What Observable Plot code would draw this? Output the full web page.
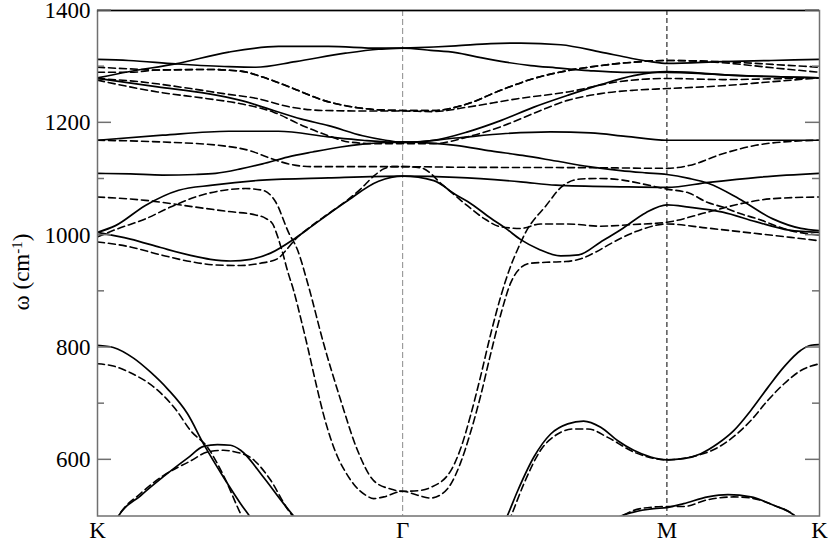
<!DOCTYPE html>
<html><head><meta charset="utf-8">
<script src="https://cdn.jsdelivr.net/npm/d3@7"></script>
<script src="https://cdn.jsdelivr.net/npm/@observablehq/plot@0.6"></script>
<style>
body{margin:0;background:#fff;}
#chart{width:830px;height:542px;}
</style></head><body><div id="chart"></div>
<script>
// k-path coordinate: K=0, Γ=1, M=1.866, K=2.366 ; values ω in cm^-1
const kTicks = [0, 1, 1.866, 2.366];
const kLabels = ["K", "Γ", "M", "K"];
const yMajor = [600, 800, 1000, 1200, 1400];
const yMinor = [700, 900, 1100, 1300];

// ---- solid bands ----
const S1 = [[0,1313],[0.102,1311],[0.256,1305],[0.430,1300],[0.518,1299],[0.649,1309],[0.813,1324],[0.921,1331],[1,1333],[1.102,1335],[1.174,1337],[1.289,1341],[1.387,1342],[1.518,1339],[1.649,1326],[1.748,1315],[1.813,1309],[1.866,1306],[2.049,1309],[2.207,1311],[2.366,1313]];
const S2 = [[0,1280],[0.102,1291],[0.256,1305],[0.430,1326],[0.593,1336],[0.757,1336],[0.921,1333],[1,1333],[1.092,1329],[1.174,1325],[1.256,1316],[1.338,1308],[1.420,1302],[1.502,1298],[1.610,1293],[1.721,1290],[1.866,1290],[2.108,1284],[2.366,1280]];
const S3 = [[0,1279],[0.197,1264],[0.361,1252],[0.469,1240],[0.577,1222],[0.666,1207],[0.757,1195],[0.869,1177],[0.944,1169],[1,1165],[1.102,1169],[1.213,1184],[1.321,1204],[1.430,1228],[1.541,1249],[1.649,1268],[1.757,1284],[1.866,1291],[2.108,1284],[2.366,1280]];
const S4 = [[0,1169],[0.213,1178],[0.430,1185],[0.593,1185],[0.757,1175],[0.869,1169],[1,1165],[1.174,1173],[1.338,1181],[1.485,1184],[1.616,1182],[1.731,1176],[1.866,1169],[2.049,1169],[2.366,1169]];
const S5 = [[0,1110],[0.108,1109],[0.213,1107],[0.321,1108],[0.387,1110],[0.469,1118],[0.541,1127],[0.623,1139],[0.705,1148],[0.797,1157],[0.869,1162],[0.944,1165],[1,1166],[1.092,1164],[1.174,1160],[1.289,1150],[1.393,1142],[1.502,1132],[1.610,1122],[1.715,1115],[1.797,1111],[1.866,1108],[1.938,1101],[2.003,1092],[2.102,1065],[2.213,1029],[2.305,1012],[2.366,1008]];
const S6 = [[0,1005],[0.059,1017],[0.157,1053],[0.266,1080],[0.377,1089],[0.541,1098],[0.757,1102],[1,1105],[1.174,1103],[1.387,1095],[1.502,1089],[1.721,1086],[1.866,1085],[2.003,1094],[2.164,1103],[2.366,1110]];
const S7 = [[0,1005],[0.108,993],[0.207,978],[0.305,964],[0.370,957],[0.436,954],[0.502,957],[0.567,968],[0.649,995],[0.705,1017],[0.813,1059],[0.921,1096],[1,1105],[1.102,1097],[1.174,1072],[1.213,1060],[1.289,1030],[1.338,1012],[1.387,992],[1.446,975],[1.518,963],[1.577,965],[1.649,988],[1.721,1012],[1.797,1040],[1.866,1054],[1.938,1050],[2.049,1041],[2.157,1024],[2.266,1009],[2.366,1005]];
const S8 = [[0,804],[0.052,800],[0.118,781],[0.174,756],[0.230,726],[0.295,682],[0.348,628],[0.413,569],[0.469,522],[0.498,500],[0.511,490]];
const S9 = [[0.059,490],[0.069,500],[0.141,536],[0.216,570],[0.295,603],[0.348,624],[0.393,627],[0.436,626],[0.469,617],[0.544,569],[0.610,522],[0.643,500],[0.660,490]];
const S10 = [[1.334,490],[1.341,498],[1.377,545],[1.430,605],[1.485,646],[1.541,664],[1.593,669],[1.649,658],[1.705,634],[1.757,617],[1.813,605],[1.866,600],[1.921,602],[1.977,611],[2.033,629],[2.085,652],[2.141,688],[2.197,729],[2.249,765],[2.305,795],[2.338,804],[2.366,805]];
const S11 = [[1.685,490],[1.708,498],[1.757,507],[1.823,513],[1.866,515],[1.921,522],[2.000,534],[2.066,538],[2.141,534],[2.216,519],[2.289,498],[2.298,490]];

// ---- dashed bands ----
const Da0 = [[0,1299],[0.108,1296],[0.197,1294],[0.361,1295],[0.469,1292],[0.544,1281],[0.633,1263],[0.741,1240],[0.852,1227],[0.928,1223],[1,1222],[1.102,1222],[1.213,1234],[1.321,1258],[1.430,1279],[1.541,1293],[1.649,1302],[1.757,1308],[1.866,1311],[2.049,1309],[2.213,1304],[2.366,1299]];
const Da = [[0,1290],[0.108,1290],[0.197,1294],[0.361,1295],[0.469,1292],[0.544,1281],[0.633,1263],[0.741,1240],[0.852,1227],[0.928,1223],[1,1222],[1.102,1222],[1.213,1234],[1.321,1258],[1.430,1279],[1.541,1293],[1.649,1302],[1.757,1308],[1.866,1311],[2.049,1307],[2.213,1298],[2.366,1290]];
const Db = [[0,1279],[0.141,1273],[0.305,1261],[0.413,1252],[0.525,1243],[0.633,1228],[0.741,1222],[0.905,1221],[1,1221],[1.102,1220],[1.213,1228],[1.377,1243],[1.541,1255],[1.705,1273],[1.866,1279],[2.049,1277],[2.266,1279],[2.366,1280]];
const Dc = [[0,1276],[0.197,1255],[0.361,1243],[0.469,1234],[0.577,1219],[0.672,1195],[0.757,1177],[0.823,1166],[0.905,1163],[1,1163],[1.102,1163],[1.213,1175],[1.321,1193],[1.452,1222],[1.541,1240],[1.649,1252],[1.757,1258],[1.866,1261],[2.049,1266],[2.207,1273],[2.366,1280]];
const Dd = [[0,1169],[0.207,1166],[0.413,1159],[0.502,1150],[0.561,1138],[0.633,1126],[0.698,1122],[1,1122],[1.174,1121],[1.649,1120],[1.866,1119],[1.938,1124],[2.049,1145],[2.157,1160],[2.272,1167],[2.366,1169]];
const De = [[0,1068],[0.157,1062],[0.321,1050],[0.430,1042],[0.518,1036],[0.551,1030],[0.574,1020],[0.590,998],[0.607,968],[0.623,936],[0.643,901],[0.666,852],[0.689,800],[0.715,738],[0.741,680],[0.764,638],[0.787,605],[0.813,578],[0.839,557],[0.879,537],[0.905,531],[0.938,534],[1,544],
  [1.049,537],[1.092,532],[1.125,538],[1.157,556],[1.190,595],[1.223,650],[1.256,715],[1.289,790],[1.321,858],[1.354,915],[1.387,942],[1.420,950],[1.485,952],[1.534,953],[1.584,958],[1.633,970],[1.682,985],[1.721,996],[1.787,1011],[1.866,1020],[1.993,1013],[2.108,1006],[2.272,996],[2.366,990]];
const Df = [[0,997],[0.059,1010],[0.157,1029],[0.239,1050],[0.321,1068],[0.403,1079],[0.485,1083],[0.541,1080],[0.584,1059],[0.626,1005],[0.656,973],[0.689,914],[0.741,807],[0.797,706],[0.852,617],[0.905,563],[0.961,548],[1,544],
  [1.049,545],[1.092,551],[1.157,580],[1.190,620],[1.223,680],[1.256,750],[1.289,825],[1.321,890],[1.354,945],[1.377,975],[1.403,1005],[1.469,1052],[1.525,1088],[1.584,1100],[1.649,1101],[1.721,1098],[1.797,1090],[1.866,1082],[1.938,1075],[2.000,1058],[2.049,1050],[2.108,1038],[2.157,1030],[2.272,1008],[2.366,1000]];
const Dg = [[0,988],[0.108,979],[0.207,965],[0.305,953],[0.387,947],[0.469,946],[0.534,950],[0.590,958],[0.616,972],[0.649,993],[0.698,1015],[0.748,1035],[0.813,1060],[0.862,1082],[0.905,1105],[0.938,1118],[0.967,1122],[1,1122],
  [1.059,1120],[1.134,1088],[1.213,1052],[1.266,1030],[1.321,1015],[1.387,1012],[1.452,1020],[1.541,1020],[1.649,1016],[1.757,1019],[1.866,1023],[1.993,1040],[2.108,1056],[2.213,1065],[2.366,1068]];
const D8 = [[0,771],[0.052,767],[0.108,755],[0.197,724],[0.256,690],[0.305,652],[0.361,622],[0.413,572],[0.469,504],[0.482,490]];
const D9 = [[0.059,490],[0.069,500],[0.141,540],[0.216,572],[0.305,598],[0.361,614],[0.413,617],[0.452,614],[0.502,604],[0.567,564],[0.623,512],[0.639,500],[0.652,490]];
const D10 = [[1.348,490],[1.354,498],[1.397,557],[1.452,617],[1.508,646],[1.561,655],[1.607,655],[1.672,640],[1.757,614],[1.866,600],[1.944,605],[2.033,622],[2.141,670],[2.197,706],[2.249,735],[2.305,759],[2.366,771]];
const D11 = [[1.695,490],[1.715,498],[1.757,510],[1.823,516],[1.866,517],[1.921,517],[2.000,529],[2.085,534],[2.141,532],[2.216,519],[2.289,498],[2.298,490]];

const solidBands = [S1,S2,S3,S4,S5,S6,S7,S8,S9,S10,S11];
const dashedBands = [Da0,Da,Db,Dc,Dd,De,Df,Dg,D8,D9,D10,D11];
const rows = (bands) => bands.flatMap((b, i) => b.map(([k, w]) => ({k, w, band: i})));
const labelOf = new Map(kTicks.map((k, i) => [k, kLabels[i]]));

const font = "'Liberation Serif', 'Times New Roman', serif";
const tickCol = "#707070";
const kMin = kTicks[0], kMax = kTicks[kTicks.length - 1];

const chart = Plot.plot({
  width: 830, height: 542,
  marginLeft: 97, marginRight: 11, marginTop: 10, marginBottom: 26.5,
  x: {domain: [kMin, kMax]},
  y: {domain: [500, 1400]},
  style: {fontFamily: font, fontSize: "22px", background: "white", color: "black", overflow: "visible"},
  marks: [
    Plot.ruleX([kTicks[1]], {stroke: "#8a8a8a", strokeWidth: 1, strokeDasharray: "6,3"}),
    Plot.ruleX([kTicks[2]], {stroke: "#000", strokeWidth: 1, strokeDasharray: "5,3"}),
    Plot.line(rows(solidBands), {x: "k", y: "w", z: "band", curve: "monotone-x", stroke: "black", strokeWidth: 1.7, clip: true}),
    Plot.line(rows(dashedBands), {x: "k", y: "w", z: "band", curve: "monotone-x", stroke: "black", strokeWidth: 1.6, strokeDasharray: "7,4", clip: true}),
    Plot.frame({stroke: tickCol, strokeWidth: 1.5}),
    Plot.ruleY([1400], {stroke: "black", strokeWidth: 1.5}),
    Plot.axisY({anchor: "left", ticks: yMajor, tickSize: 0, tickPadding: 7, tickFormat: d => String(d), label: null, fontSize: 23}),
    Plot.axisX({ticks: kTicks, tickSize: 0, tickPadding: 6, tickFormat: d => labelOf.get(d), label: null, fontSize: 23})
  ]
});

const svg = d3.select(chart);

// inward ticks on both vertical edges, positioned with Plot's own scales
const xs = chart.scale("x"), ys = chart.scale("y");
const xL = xs.apply(kMin), xR = xs.apply(kMax);
const tickG = svg.append("g").attr("stroke", tickCol).attr("stroke-width", 1.5);
[[yMajor, 14], [yMinor, 7]].forEach(([vals, len]) => {
  vals.forEach(v => {
    const py = ys.apply(v);
    tickG.append("line").attr("x1", xL).attr("x2", xL + len).attr("y1", py).attr("y2", py);
    tickG.append("line").attr("x1", xR).attr("x2", xR - len).attr("y1", py).attr("y2", py);
  });
});

const t = svg.append("text")
  .attr("transform", "translate(29,272) rotate(-90)")
  .attr("text-anchor", "middle")
  .style("font-family", font)
  .style("font-size", "23px")
  .attr("fill", "black");
t.append("tspan").text("ω (cm");
t.append("tspan").attr("dy", "-0.45em").style("font-size", "15px").text("-1");
t.append("tspan").attr("dy", "0.3em").text(")");

document.getElementById("chart").appendChild(chart);
</script>
</body></html>
